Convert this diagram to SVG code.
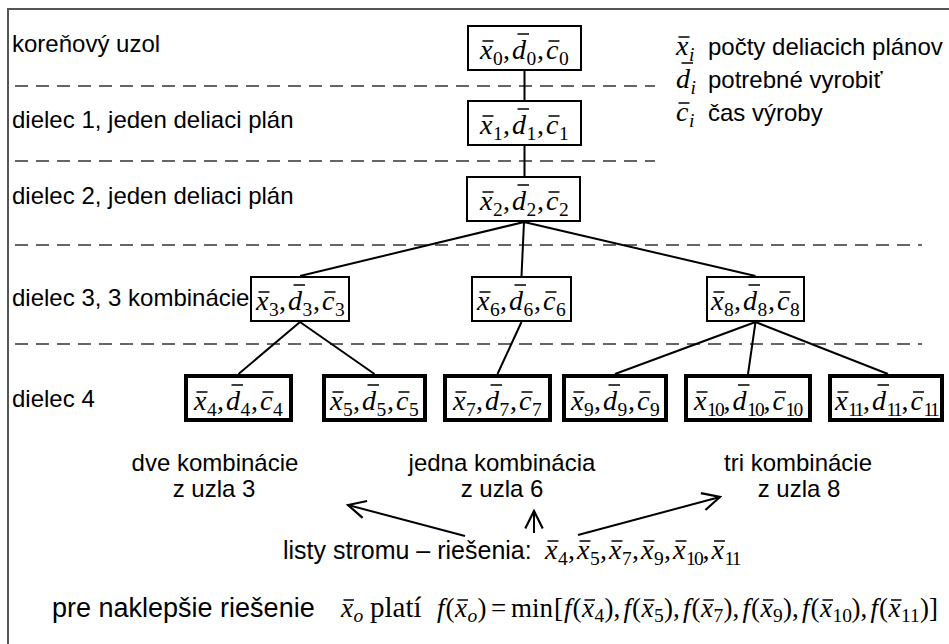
<svg xmlns="http://www.w3.org/2000/svg" width="949" height="644" viewBox="0 0 949 644">
<style>
.t{font-family:"Liberation Sans",Arial,sans-serif;font-size:24px;fill:#000}
.m{font-family:"Liberation Serif","Times New Roman",serif;font-size:28px;font-style:italic;fill:#000}
.s{font-size:19.5px;font-style:normal}
.s2{font-size:19.5px;font-style:normal;letter-spacing:-1.75px}
.s3{font-size:19.5px;font-style:normal;letter-spacing:-2.5px}
.si{font-size:19.5px;font-style:italic}
.r{font-style:normal}
.bar{stroke:#000;stroke-width:1.3;fill:none}
.box{fill:#fff;stroke:#000;stroke-width:2}
.leaf{fill:#fff;stroke:#000;stroke-width:4}
.dash{stroke:#333;stroke-width:1.5;stroke-dasharray:13 8;fill:none}
.edge{stroke:#000;stroke-width:2;fill:none}
.arrow{stroke:#000;stroke-width:2;fill:none;marker-end:url(#head)}
</style>
<defs>
<marker id="head" markerUnits="userSpaceOnUse" markerWidth="24" markerHeight="24" viewBox="-20 -10 22 20" refX="0" refY="0" orient="auto">
<path d="M-16,-8 L0,0 L-16,8" fill="none" stroke="#000" stroke-width="2"/>
</marker>
</defs>
<rect width="949" height="644" fill="#fff"/>
<!-- outer frame -->
<path d="M8,644 V9 H949" fill="none" stroke="#555" stroke-width="2"/>

<!-- level separators -->
<g id="separators">
<path class="dash" d="M15,86 H655 M15,161 H655 M15,245 H922 M15,344 H922"/>
</g>

<!-- tree edges -->
<g id="connectors">
<path class="edge" d="M524.5 71V100 M524.5 146V177 M524 222L300 276 M524 222L521.5 276 M524 222L755.5 276 M300 322L238.5 374 M300 322L374.5 374 M521.5 322L497.5 374 M755.5 322L615 374 M755.5 322L748 374 M755.5 322L888 374"/>
<path class="arrow" d="M465,536 L348,505"/>
<path class="arrow" d="M534,533 L534,511"/>
<path class="arrow" d="M578,535 L720,497"/>
</g>

<!-- level labels -->
<g id="levels">
<text class="t" x="12" y="52">koreňový uzol</text>
<text class="t" x="12" y="128">dielec 1, jeden deliaci plán</text>
<text class="t" x="12" y="204">dielec 2, jeden deliaci plán</text>
<text class="t" x="12" y="306">dielec 3, 3 kombinácie</text>
<text class="t" x="12" y="407">dielec 4</text>
</g>

<!-- legend -->
<g id="legend">
<text class="m" y="55"><tspan x="676">x</tspan><tspan class="si" x="689" y="60.5">i</tspan></text>
<text class="t" x="708" y="55">počty deliacich plánov</text>
<text class="m" y="88"><tspan x="676">d</tspan><tspan class="si" x="690.5" y="93.5">i</tspan></text>
<text class="t" x="708" y="88">potrebné vyrobiť</text>
<text class="m" y="121"><tspan x="676">c</tspan><tspan class="si" x="689" y="126.5">i</tspan></text>
<text class="t" x="708" y="121">čas výroby</text>
<path class="bar" d="M678.5 37h11 M681.5 63h11.5 M678.5 103h11"/>
</g>

<!-- nodes -->
<g id="n0">
<rect class="box" x="468" y="26" width="113" height="44"/>
<text class="m" y="59"><tspan x="480">x</tspan><tspan class="s" x="493" y="64.5">0</tspan><tspan class="r" x="503" y="59">,</tspan><tspan x="512">d</tspan><tspan class="s" x="526.5" y="64.5">0</tspan><tspan class="r" x="537" y="59">,</tspan><tspan x="546">c</tspan><tspan class="s" x="559" y="64.5">0</tspan></text>
<path class="bar" d="M482.5 41h11 M517.5 34h11.5 M548.5 41h11"/>
</g>
<g id="n1">
<rect class="box" x="468" y="101" width="113" height="44"/>
<text class="m" y="134"><tspan x="480">x</tspan><tspan class="s" x="493" y="139.5">1</tspan><tspan class="r" x="503" y="134">,</tspan><tspan x="512">d</tspan><tspan class="s" x="526.5" y="139.5">1</tspan><tspan class="r" x="537" y="134">,</tspan><tspan x="546">c</tspan><tspan class="s" x="559" y="139.5">1</tspan></text>
<path class="bar" d="M482.5 116h11 M517.5 109h11.5 M548.5 116h11"/>
</g>
<g id="n2">
<rect class="box" x="467" y="177" width="113" height="44"/>
<text class="m" y="210"><tspan x="480">x</tspan><tspan class="s" x="493" y="215.5">2</tspan><tspan class="r" x="503" y="210">,</tspan><tspan x="512">d</tspan><tspan class="s" x="526.5" y="215.5">2</tspan><tspan class="r" x="537" y="210">,</tspan><tspan x="546">c</tspan><tspan class="s" x="559" y="215.5">2</tspan></text>
<path class="bar" d="M482.5 192h11 M517.5 185h11.5 M548.5 192h11"/>
</g>
<g id="n3">
<rect class="box" x="251" y="277" width="98" height="44"/>
<text class="m" y="310"><tspan x="256">x</tspan><tspan class="s" x="269" y="315.5">3</tspan><tspan class="r" x="279" y="310">,</tspan><tspan x="288">d</tspan><tspan class="s" x="302.5" y="315.5">3</tspan><tspan class="r" x="313" y="310">,</tspan><tspan x="322">c</tspan><tspan class="s" x="335" y="315.5">3</tspan></text>
<path class="bar" d="M258.5 292h11 M293.5 285h11.5 M324.5 292h11"/>
</g>
<g id="n6">
<rect class="box" x="472" y="277" width="99" height="44"/>
<text class="m" y="310"><tspan x="477">x</tspan><tspan class="s" x="490" y="315.5">6</tspan><tspan class="r" x="500" y="310">,</tspan><tspan x="509">d</tspan><tspan class="s" x="523.5" y="315.5">6</tspan><tspan class="r" x="534" y="310">,</tspan><tspan x="543">c</tspan><tspan class="s" x="556" y="315.5">6</tspan></text>
<path class="bar" d="M479.5 292h11 M514.5 285h11.5 M545.5 292h11"/>
</g>
<g id="n8">
<rect class="box" x="707" y="277" width="97" height="44"/>
<text class="m" y="310"><tspan x="711">x</tspan><tspan class="s" x="724" y="315.5">8</tspan><tspan class="r" x="734" y="310">,</tspan><tspan x="743">d</tspan><tspan class="s" x="757.5" y="315.5">8</tspan><tspan class="r" x="768" y="310">,</tspan><tspan x="777">c</tspan><tspan class="s" x="790" y="315.5">8</tspan></text>
<path class="bar" d="M713.5 292h11 M748.5 285h11.5 M779.5 292h11"/>
</g>
<g id="n4">
<rect class="leaf" x="186" y="376" width="105" height="44"/>
<text class="m" y="410"><tspan x="194">x</tspan><tspan class="s" x="207" y="415.5">4</tspan><tspan class="r" x="217" y="410">,</tspan><tspan x="226">d</tspan><tspan class="s" x="240.5" y="415.5">4</tspan><tspan class="r" x="251" y="410">,</tspan><tspan x="260">c</tspan><tspan class="s" x="273" y="415.5">4</tspan></text>
<path class="bar" d="M196.5 392h11 M231.5 385h11.5 M262.5 392h11"/>
</g>
<g id="n5">
<rect class="leaf" x="324" y="376" width="101" height="44"/>
<text class="m" y="410"><tspan x="330">x</tspan><tspan class="s" x="343" y="415.5">5</tspan><tspan class="r" x="353" y="410">,</tspan><tspan x="362">d</tspan><tspan class="s" x="376.5" y="415.5">5</tspan><tspan class="r" x="387" y="410">,</tspan><tspan x="396">c</tspan><tspan class="s" x="409" y="415.5">5</tspan></text>
<path class="bar" d="M332.5 392h11 M367.5 385h11.5 M398.5 392h11"/>
</g>
<g id="n7">
<rect class="leaf" x="445" y="376" width="105" height="44"/>
<text class="m" y="410"><tspan x="453">x</tspan><tspan class="s" x="466" y="415.5">7</tspan><tspan class="r" x="476" y="410">,</tspan><tspan x="485">d</tspan><tspan class="s" x="499.5" y="415.5">7</tspan><tspan class="r" x="510" y="410">,</tspan><tspan x="519">c</tspan><tspan class="s" x="532" y="415.5">7</tspan></text>
<path class="bar" d="M455.5 392h11 M490.5 385h11.5 M521.5 392h11"/>
</g>
<g id="n9">
<rect class="leaf" x="564" y="376" width="102" height="44"/>
<text class="m" y="410"><tspan x="571">x</tspan><tspan class="s" x="584" y="415.5">9</tspan><tspan class="r" x="594" y="410">,</tspan><tspan x="603">d</tspan><tspan class="s" x="617.5" y="415.5">9</tspan><tspan class="r" x="628" y="410">,</tspan><tspan x="637">c</tspan><tspan class="s" x="650" y="415.5">9</tspan></text>
<path class="bar" d="M573.5 392h11 M608.5 385h11.5 M639.5 392h11"/>
</g>
<g id="n10">
<rect class="leaf" x="686" y="376" width="124" height="44"/>
<text class="m" y="410"><tspan x="694">x</tspan><tspan class="s2" x="707" y="415.5">10</tspan><tspan class="r" x="723.5" y="410">,</tspan><tspan x="732.5">d</tspan><tspan class="s2" x="747" y="415.5">10</tspan><tspan class="r" x="763.5" y="410">,</tspan><tspan x="772.5">c</tspan><tspan class="s2" x="785.5" y="415.5">10</tspan></text>
<path class="bar" d="M696.5 392h11 M738 385h11.5 M775 392h11"/>
</g>
<g id="n11">
<rect class="leaf" x="830" y="376" width="112" height="44"/>
<text class="m" y="410"><tspan x="835">x</tspan><tspan class="s3" x="848" y="415.5">11</tspan><tspan class="r" x="863" y="410">,</tspan><tspan x="872">d</tspan><tspan class="s3" x="886.5" y="415.5">11</tspan><tspan class="r" x="901.5" y="410">,</tspan><tspan x="910.5">c</tspan><tspan class="s3" x="923.5" y="415.5">11</tspan></text>
<path class="bar" d="M837.5 392h11 M877.5 385h11.5 M913 392h11"/>
</g>

<!-- annotations under the leaves -->
<g id="notes">
<text class="t" x="215" y="471" text-anchor="middle">dve kombinácie</text>
<text class="t" x="214" y="497" text-anchor="middle">z uzla 3</text>
<text class="t" x="502" y="471" text-anchor="middle">jedna kombinácia</text>
<text class="t" x="502" y="497" text-anchor="middle">z uzla 6</text>
<text class="t" x="798" y="471" text-anchor="middle">tri kombinácie</text>
<text class="t" x="799" y="497" text-anchor="middle">z uzla 8</text>
</g>

<!-- leaves = solutions -->
<g id="leaves-line">
<text class="t" x="283" y="559" style="font-size:25px">listy stromu – riešenia:</text>
<text class="m" y="559"><tspan x="545">x</tspan><tspan class="s" x="558" y="564.5">4</tspan><tspan class="r" x="568" y="559">,</tspan><tspan x="577">x</tspan><tspan class="s" x="590" y="564.5">5</tspan><tspan class="r" x="600" y="559">,</tspan><tspan x="609">x</tspan><tspan class="s" x="622" y="564.5">7</tspan><tspan class="r" x="632" y="559">,</tspan><tspan x="641">x</tspan><tspan class="s" x="654" y="564.5">9</tspan><tspan class="r" x="664" y="559">,</tspan><tspan x="673">x</tspan><tspan class="s2" x="686" y="564.5">10</tspan><tspan class="r" x="702.5" y="559">,</tspan><tspan x="711.5">x</tspan><tspan class="s2" x="724.5" y="564.5">11</tspan></text>
<path class="bar" d="M547.5 541h11 M579.5 541h11 M611.5 541h11 M643.5 541h11 M675.5 541h11 M714 541h11"/>
</g>

<!-- optimum condition -->
<g id="optimum">
<text class="t" x="52" y="617" style="font-size:27px">pre naklepšie riešenie</text>
<text class="m" y="617" style="font-size:27px"><tspan x="341">x</tspan><tspan class="si" x="353.5" y="622">o</tspan></text>
<text class="m r" x="370" y="617" style="font-size:29px">platí</text>
<text class="m" y="617" style="font-size:27px"><tspan x="437">f</tspan><tspan class="r" x="445.5">(</tspan><tspan x="455">x</tspan><tspan class="si" x="467.5" y="622">o</tspan><tspan class="r" x="477.5" y="617">)</tspan><tspan class="r" x="491">=</tspan><tspan class="r" x="511">min</tspan><tspan class="r" x="554">[</tspan><tspan x="564">f</tspan><tspan class="r" x="572.5">(</tspan><tspan x="582">x</tspan><tspan class="s" x="594.5" y="622">4</tspan><tspan class="r" x="604.5" y="617">),</tspan><tspan x="623.5">f</tspan><tspan class="r" x="632">(</tspan><tspan x="641.5">x</tspan><tspan class="s" x="654" y="622">5</tspan><tspan class="r" x="664" y="617">),</tspan><tspan x="683">f</tspan><tspan class="r" x="691.5">(</tspan><tspan x="701">x</tspan><tspan class="s" x="713.5" y="622">7</tspan><tspan class="r" x="723.5" y="617">),</tspan><tspan x="742.5">f</tspan><tspan class="r" x="751">(</tspan><tspan x="760.5">x</tspan><tspan class="s" x="773" y="622">9</tspan><tspan class="r" x="783" y="617">),</tspan><tspan x="802">f</tspan><tspan class="r" x="810.5">(</tspan><tspan x="820">x</tspan><tspan class="s" x="832.5" y="622">10</tspan><tspan class="r" x="851.5" y="617">),</tspan><tspan x="870.5">f</tspan><tspan class="r" x="879">(</tspan><tspan x="888.5">x</tspan><tspan class="s" x="901" y="622">11</tspan><tspan class="r" x="920" y="617">)]</tspan></text>
<path class="bar" d="M343.5 600h10.5 M457.5 600h10.5 M584.5 600h10.5 M644 600h10.5 M703.5 600h10.5 M763 600h10.5 M822.5 600h10.5 M891 600h10.5"/>
</g>
</svg>
